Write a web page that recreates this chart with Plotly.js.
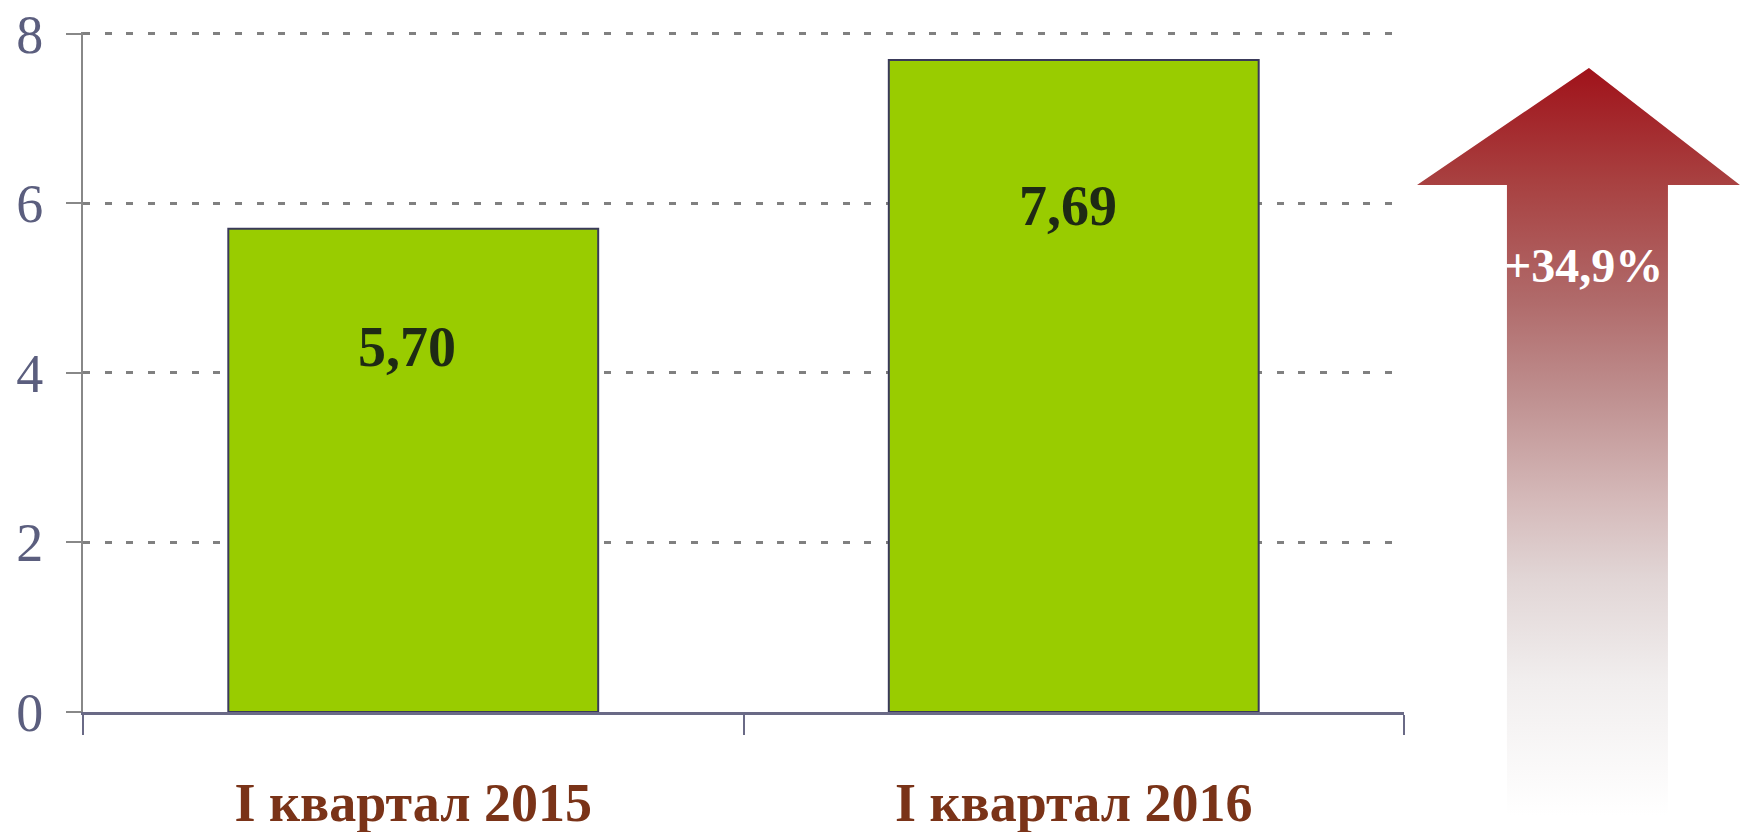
<!DOCTYPE html>
<html>
<head>
<meta charset="utf-8">
<script src="https://cdn.plot.ly/plotly-3.0.1.min.js"></script>
<style>html,body{margin:0;padding:0;background:#fff;}#chart{width:1740px;height:832px;}</style>
</head>
<body>
<div id="chart"></div>
<script>
const categories = ['I квартал 2015', 'I квартал 2016'];
const values = [5.70, 7.69];
const yTicks = [0, 2, 4, 6, 8];
const labelShift = [-118, -146];

const fmt = v => v.toFixed(2).replace('.', ',');
const growth = (values[1] / values[0] - 1) * 100;
const growthText = '+' + growth.toFixed(1).replace('.', ',') + '%';

const arrowSvg =
 '<svg xmlns="http://www.w3.org/2000/svg" width="323" height="748" viewBox="0 0 323 748" preserveAspectRatio="none">' +
 '<defs><linearGradient id="g" x1="0" y1="0" x2="0" y2="748" gradientUnits="userSpaceOnUse">' +
 '<stop offset="0" stop-color="#a0121a"/>' +
 '<stop offset="0.15" stop-color="#a84040"/>' +
 '<stop offset="0.31" stop-color="#b06a6a"/>' +
 '<stop offset="0.44" stop-color="#bf9090"/>' +
 '<stop offset="0.58" stop-color="#d5baba"/>' +
 '<stop offset="0.68" stop-color="#e1d5d5"/>' +
 '<stop offset="0.82" stop-color="#f1eeee"/>' +
 '<stop offset="1" stop-color="#ffffff"/>' +
 '</linearGradient></defs>' +
 '<path d="M172 0 L323 117 L251 117 L251 748 L90 748 L90 117 L0 117 Z" fill="url(#g)"/>' +
 '</svg>';
const arrowUri = 'data:image/svg+xml;base64,' + btoa(arrowSvg);

const trace = {
  type: 'bar',
  x: categories,
  y: values,
  width: 0.56,
  marker: {color: '#99cc00', line: {color: '#3a3a5a', width: 2}},
  hoverinfo: 'skip'
};

const serif = 'Liberation Serif, Times New Roman, serif';

const annotations = values.map((v, i) => ({
  x: categories[i], y: v, xref: 'x', yref: 'y',
  text: '<b>' + fmt(v) + '</b>', showarrow: false, yshift: labelShift[i], xshift: -6,
  xanchor: 'center', yanchor: 'middle',
  font: {family: serif, size: 56, color: '#1e2a14'}
}));
annotations.push({
  xref: 'paper', yref: 'paper', x: 1.1356, y: 0.656,
  xanchor: 'center', yanchor: 'middle',
  text: '<b>' + growthText + '</b>', showarrow: false,
  font: {family: serif, size: 48, color: '#ffffff'}
});

const layout = {
  width: 1740, height: 832,
  margin: {l: 83, r: 336, t: 32, b: 120},
  paper_bgcolor: '#ffffff', plot_bgcolor: '#ffffff',
  showlegend: false,
  xaxis: {
    type: 'category',
    showline: true, linecolor: '#6a6a86', linewidth: 2.5,
    ticks: 'outside', tickson: 'boundaries', ticklen: 20, tickwidth: 2, tickcolor: '#6a6a86',
    tickfont: {family: serif, size: 54, color: '#7a3318', weight: 'bold'},
    ticklabelstandoff: 42,
    showgrid: false, zeroline: false, fixedrange: true
  },
  yaxis: {
    range: [0, 8.02], tickvals: yTicks, ticktext: yTicks.map(String),
    showline: true, linecolor: '#888888', linewidth: 2,
    ticks: 'outside', ticklen: 15, tickwidth: 2, tickcolor: '#888888',
    tickfont: {family: serif, size: 54, color: '#5b5e7e'},
    ticklabelstandoff: 12,
    showgrid: true, gridcolor: '#808080', gridwidth: 3, griddash: '7px,14.7px',
    zeroline: false, fixedrange: true
  },
  annotations: annotations,
  images: [{
    source: arrowUri, xref: 'paper', yref: 'paper',
    x: 1.0098, y: 0.9471, sizex: 0.2445, sizey: 1.1000,
    xanchor: 'left', yanchor: 'top', sizing: 'stretch', layer: 'below'
  }]
};

Plotly.newPlot('chart', [trace], layout, {displayModeBar: false, staticPlot: true});
</script>
</body>
</html>
